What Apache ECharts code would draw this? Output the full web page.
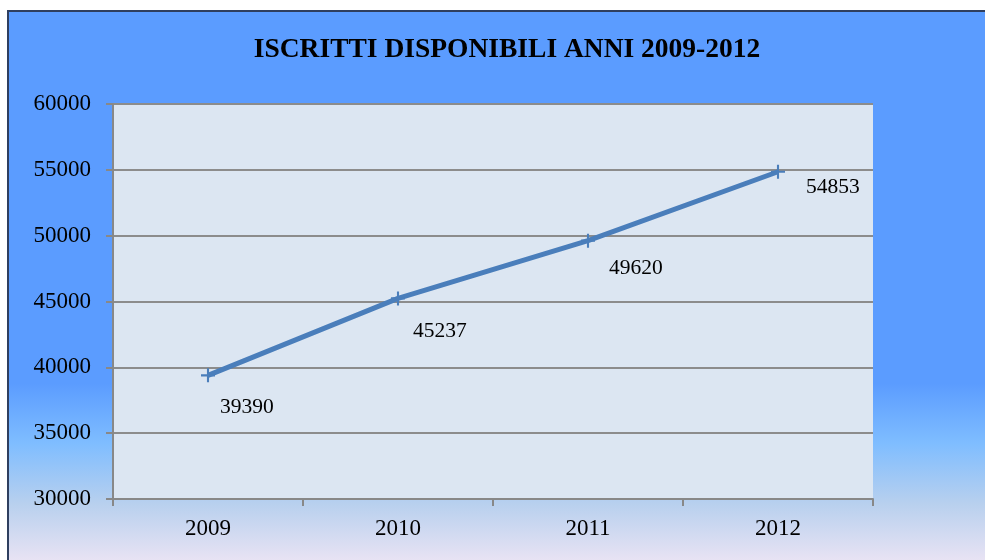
<!DOCTYPE html>
<html>
<head>
<meta charset="utf-8">
<script src="https://cdn.jsdelivr.net/npm/echarts@6/dist/echarts.min.js"></script>
<style>
html,body{margin:0;padding:0;background:#ffffff;}
#chart{width:985px;height:560px;}
</style>
</head>
<body>
<div id="chart"></div>
<script>
const titleText = 'ISCRITTI DISPONIBILI ANNI 2009-2012';
const categories = ['2009', '2010', '2011', '2012'];
const iscritti = [39390, 45237, 49620, 54853];
const yMin = 30000, yMax = 60000, yStep = 5000;
// label offsets (style only)
const labelOffsets = [[0, 32], [3, 33], [9, 28], [16, 16]];

const FONT = '"Liberation Serif", "DejaVu Serif", serif';
const chart = echarts.init(document.getElementById('chart'), null, {renderer: 'canvas'});

const plus = 'path://M-1.5,-10 L1.5,-10 L1.5,-1.5 L10,-1.5 L10,1.5 L1.5,1.5 L1.5,10 L-1.5,10 L-1.5,1.5 L-10,1.5 L-10,-1.5 L-1.5,-1.5 Z';

chart.setOption({
  backgroundColor: '#ffffff',
  animation: false,
  graphic: [{
    type: 'rect',
    z: -10,
    silent: true,
    shape: {x: 8, y: 11, width: 1000, height: 600},
    style: {
      fill: {
        type: 'linear', x: 0, y: 0, x2: 0, y2: 1, global: false,
        colorStops: [
          {offset: 0, color: '#5b9cff'},
          {offset: 0.62, color: '#5b9cff'},
          {offset: 0.72, color: '#7fbdff'},
          {offset: 0.82, color: '#b8d0ee'},
          {offset: 0.92, color: '#ebe4f4'},
          {offset: 1, color: '#efe6f5'}
        ]
      },
      stroke: '#2f3f5f',
      lineWidth: 2
    }
  }],
  title: {
    text: titleText,
    left: 502,
    textAlign: 'center',
    top: 31,
    textStyle: {fontFamily: FONT, fontWeight: 'bold', fontSize: 27.5, color: '#000'}
  },
  grid: {
    left: 113, right: 112, top: 104, bottom: 61,
    show: true, backgroundColor: '#dce6f2', borderWidth: 0
  },
  xAxis: {
    type: 'category',
    data: categories,
    boundaryGap: true,
    axisLine: {show: true, lineStyle: {color: '#888888', width: 2}},
    axisTick: {show: true, length: 7, alignWithLabel: false, lineStyle: {color: '#888888', width: 2}},
    axisLabel: {fontFamily: FONT, fontSize: 23, color: '#000', margin: 18},
    splitLine: {show: false}
  },
  yAxis: {
    type: 'value',
    min: yMin, max: yMax, interval: yStep,
    axisLine: {show: true, lineStyle: {color: '#888888', width: 2}},
    axisTick: {show: true, length: 7, lineStyle: {color: '#888888', width: 2}},
    axisLabel: {fontFamily: FONT, fontSize: 23, color: '#000', margin: 22, formatter: v => String(v)},
    splitLine: {show: true, lineStyle: {color: '#8c8c8c', width: 2}}
  },
  series: [{
    type: 'line',
    data: iscritti.map((v, i) => ({
      value: v,
      label: {offset: labelOffsets[i]}
    })),
    symbol: plus,
    symbolSize: 14,
    showAllSymbol: true,
    lineStyle: {color: '#4a7ebb', width: 5},
    itemStyle: {color: '#4a7ebb'},
    label: {
      show: true,
      position: 'right',
      distance: 5,
      fontFamily: FONT,
      fontSize: 21.5,
      color: '#000'
    }
  }]
});
</script>
</body>
</html>
